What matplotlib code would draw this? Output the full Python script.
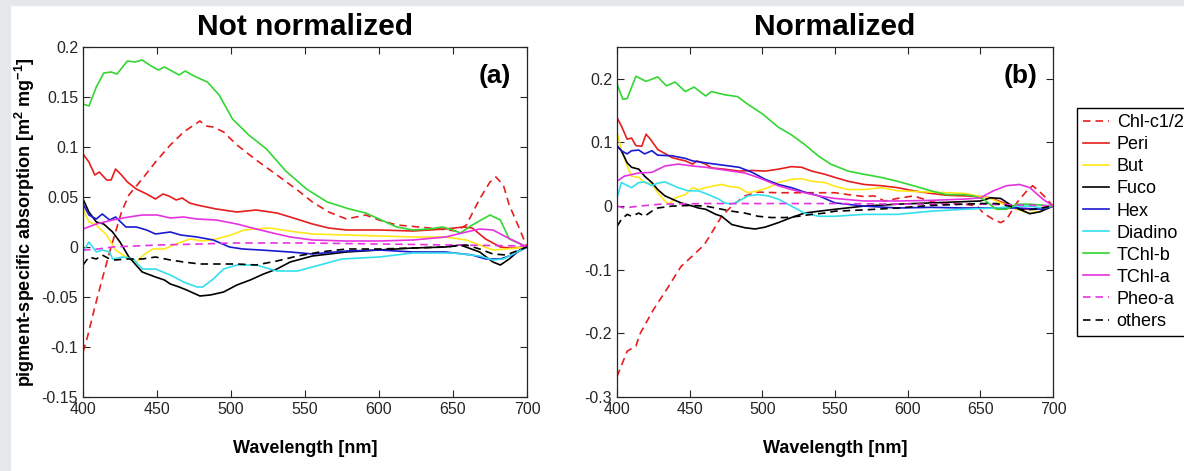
import matplotlib
matplotlib.use("Agg")
import matplotlib.pyplot as plt
from matplotlib.patches import Rectangle

plt.rcParams['font.family'] = ['Liberation Sans', 'DejaVu Sans']
plt.rcParams['mathtext.fontset'] = 'custom'
plt.rcParams['mathtext.rm'] = 'Liberation Sans'
plt.rcParams['mathtext.bf'] = 'Liberation Sans:bold'

# pigment names (legend order)
pigments = ["Chl-c1/2", "Peri", "But", "Fuco", "Hex", "Diadino", "TChl-b", "TChl-a", "Pheo-a", "others"]

# ---- panel (a): not normalized, (wavelength nm, value) ----
a_chlc = [(400,-0.105),(403,-0.09),(408,-0.06),(413,-0.032),(418,-0.005),(422,0.015),(426,0.035),(431,0.052),
          (440,0.068),(449,0.085),(459,0.102),(468,0.115),(475,0.122),(479,0.126),(483,0.121),(488,0.12),
          (495,0.115),(504,0.102),(517,0.087),(531,0.072),(544,0.058),(555,0.045),(566,0.035),(578,0.028),
          (591,0.032),(600,0.027),(612,0.022),(627,0.02),(641,0.018),(652,0.016),(659,0.022),(668,0.048),
          (675,0.065),(679,0.07),(684,0.062),(688,0.042),(695,0.018),(700,0.0)]
a_peri = [(400,0.093),(404,0.085),(408,0.072),(411,0.075),(416,0.067),(419,0.067),(422,0.078),(426,0.072),
          (430,0.065),(436,0.058),(443,0.053),(449,0.048),(454,0.053),(458,0.051),(463,0.047),(467,0.049),
          (472,0.044),(477,0.042),(490,0.038),(504,0.035),(517,0.037),(531,0.034),(540,0.03),(555,0.023),
          (566,0.019),(578,0.017),(600,0.017),(623,0.016),(645,0.018),(657,0.02),(663,0.019),(672,0.008),
          (682,0.0),(688,-0.001),(700,0.0)]
a_but = [(400,0.038),(404,0.025),(409,0.022),(416,0.012),(422,-0.003),(427,-0.008),(436,-0.015),(441,-0.008),
         (447,-0.002),(455,-0.002),(463,0.003),(472,0.008),(481,0.006),(490,0.008),(500,0.012),(509,0.017),
         (517,0.018),(526,0.019),(535,0.017),(544,0.015),(555,0.013),(578,0.012),(600,0.011),(623,0.01),
         (645,0.01),(659,0.007),(668,0.002),(677,-0.003),(686,-0.002),(700,0.0)]
a_fuco = [(400,0.048),(404,0.035),(409,0.025),(414,0.023),(420,0.015),(425,0.005),(431,-0.01),(440,-0.025),
          (449,-0.03),(455,-0.033),(459,-0.037),(465,-0.04),(470,-0.043),(479,-0.049),(486,-0.048),(495,-0.045),
          (504,-0.038),(513,-0.033),(522,-0.027),(531,-0.022),(540,-0.015),(555,-0.009),(578,-0.005),
          (600,-0.003),(623,-0.001),(645,0.0),(655,0.002),(668,-0.005),(677,-0.015),(682,-0.018),(688,-0.012),
          (695,-0.003),(700,0.0)]
a_hex = [(400,0.043),(404,0.032),(409,0.028),(413,0.033),(418,0.027),(422,0.03),(429,0.02),(436,0.02),
         (443,0.017),(449,0.013),(459,0.015),(466,0.012),(477,0.01),(488,0.007),(499,0.0),(508,-0.002),
         (520,-0.003),(540,-0.005),(555,-0.007),(578,-0.004),(600,-0.003),(623,-0.005),(645,-0.005),
         (663,-0.008),(672,-0.012),(682,-0.012),(690,-0.008),(700,0.0)]
a_diad = [(400,-0.005),(404,0.005),(409,-0.005),(413,-0.003),(418,-0.005),(420,-0.012),(427,-0.01),(434,-0.012),
          (440,-0.022),(449,-0.022),(459,-0.028),(468,-0.035),(477,-0.04),(481,-0.04),(488,-0.032),(495,-0.022),
          (504,-0.018),(517,-0.018),(531,-0.024),(545,-0.024),(560,-0.018),(575,-0.012),(600,-0.01),
          (623,-0.006),(650,-0.006),(668,-0.009),(677,-0.013),(684,-0.012),(692,-0.006),(700,0.0)]
a_tchlb = [(400,0.143),(404,0.141),(409,0.16),(414,0.174),(419,0.175),(423,0.173),(430,0.186),(435,0.185),
           (440,0.187),(446,0.181),(451,0.177),(455,0.18),(460,0.176),(465,0.172),(469,0.176),(475,0.171),
           (484,0.165),(492,0.152),(501,0.128),(512,0.112),(524,0.098),(537,0.076),(551,0.058),(565,0.045),
           (580,0.038),(591,0.034),(600,0.028),(612,0.02),(623,0.017),(634,0.018),(643,0.02),
           (650,0.017),(655,0.014),(663,0.022),(675,0.032),(682,0.027),(688,0.008),(700,0.0)]
a_tchla = [(400,0.018),(409,0.023),(420,0.027),(431,0.03),(440,0.032),(450,0.032),(459,0.029),(468,0.03),
           (477,0.028),(490,0.027),(504,0.023),(517,0.018),(531,0.013),(540,0.01),(555,0.007),(578,0.006),
           (600,0.006),(623,0.007),(645,0.01),(659,0.015),(668,0.018),(677,0.017),(686,0.01),(700,0.0)]
a_pheo = [(400,-0.003),(410,-0.002),(420,0.0),(450,0.002),(480,0.003),(500,0.004),(550,0.004),(600,0.003),
          (650,0.002),(700,0.001)]
a_others = [(400,-0.018),(404,-0.01),(409,-0.012),(413,-0.008),(418,-0.012),(422,-0.013),(429,-0.012),
            (440,-0.012),(449,-0.01),(459,-0.013),(468,-0.015),(479,-0.017),(490,-0.017),(504,-0.017),
            (517,-0.018),(531,-0.014),(545,-0.009),(560,-0.005),(578,-0.002),(600,-0.002),(623,-0.001),
            (645,0.0),(659,0.002),(668,-0.002),(677,-0.007),(686,-0.008),(700,0.0)]

# ---- panel (b): normalized ----
b_chlc = [(400,-0.268),(407,-0.228),(413,-0.22),(416,-0.2),(425,-0.163),(435,-0.128),(444,-0.095),(453,-0.076),
          (460,-0.061),(467,-0.035),(472,-0.016),(479,0.0),(488,0.016),(497,0.022),(510,0.021),(530,0.021),
          (550,0.021),(559,0.018),(570,0.015),(577,0.016),(584,0.008),(593,0.012),(604,0.016),(611,0.011),
          (620,0.005),(639,0.003),(648,0.0),(652,-0.011),(659,-0.021),(664,-0.026),(668,-0.021),(675,0.005),
          (682,0.024),(686,0.032),(693,0.018),(700,0.0)]
b_peri = [(400,0.139),(403,0.126),(407,0.105),(410,0.107),(413,0.095),(417,0.094),(420,0.113),(423,0.105),
          (428,0.089),(438,0.076),(447,0.071),(452,0.066),(455,0.071),(461,0.066),(465,0.06),(474,0.058),
          (484,0.055),(493,0.056),(502,0.055),(511,0.058),(520,0.062),(527,0.061),(534,0.055),(543,0.05),
          (550,0.045),(559,0.039),(570,0.034),(582,0.032),(593,0.029),(604,0.024),(616,0.02),(627,0.017),
          (639,0.016),(650,0.015),(657,0.013),(666,0.005),(675,-0.005),(684,-0.005),(693,-0.003),(700,0.0)]
b_but = [(400,0.116),(403,0.089),(407,0.063),(410,0.047),(415,0.045),(419,0.037),(424,0.035),(428,0.021),
         (433,0.008),(436,0.003),(440,0.013),(447,0.018),(452,0.029),(456,0.026),(461,0.029),(467,0.032),
         (472,0.034),(477,0.031),(484,0.029),(490,0.021),(497,0.024),(504,0.029),(511,0.037),(520,0.042),
         (527,0.043),(534,0.039),(543,0.037),(550,0.031),(559,0.026),(570,0.026),(582,0.029),(593,0.024),
         (604,0.023),(616,0.022),(627,0.021),(639,0.02),(648,0.016),(657,0.012),(666,0.003),(675,-0.005),
         (684,-0.011),(691,-0.008),(700,0.0)]
b_fuco = [(400,0.095),(403,0.087),(407,0.068),(410,0.061),(415,0.058),(419,0.047),(424,0.037),(428,0.026),
          (433,0.016),(438,0.011),(444,0.005),(452,0.0),(456,-0.003),(461,-0.005),(468,-0.013),(472,-0.016),
          (479,-0.029),(488,-0.034),(495,-0.036),(502,-0.033),(511,-0.026),(520,-0.018),(529,-0.011),
          (539,-0.008),(550,-0.005),(570,0.0),(593,0.003),(616,0.005),(639,0.007),(650,0.008),(657,0.013),
          (664,0.012),(670,0.003),(677,-0.005),(684,-0.012),(691,-0.009),(700,0.0)]
b_hex = [(400,0.095),(403,0.087),(407,0.082),(410,0.087),(415,0.088),(419,0.082),(424,0.087),(428,0.08),
         (438,0.079),(447,0.075),(452,0.071),(461,0.068),(474,0.064),(484,0.061),(493,0.053),(502,0.042),
         (511,0.034),(520,0.029),(529,0.022),(539,0.016),(550,0.005),(570,0.0),(593,-0.003),(616,-0.002),
         (639,-0.003),(661,-0.003),(675,-0.003),(693,-0.005),(700,0.0)]
b_diad = [(400,0.013),(403,0.037),(410,0.029),(415,0.037),(419,0.038),(424,0.032),(428,0.036),(433,0.038),
          (442,0.029),(449,0.024),(456,0.024),(463,0.018),(470,0.011),(474,0.005),(479,0.003),(484,0.008),
          (490,0.016),(497,0.018),(504,0.016),(511,0.011),(520,0.0),(529,-0.011),(539,-0.016),(550,-0.016),
          (570,-0.013),(593,-0.013),(616,-0.008),(639,-0.005),(661,-0.003),(675,0.0),(684,0.0),(693,-0.003),
          (700,0.0)]
b_tchlb = [(400,0.192),(404,0.168),(407,0.169),(413,0.204),(420,0.196),(428,0.203),(434,0.189),(440,0.195),
           (447,0.18),(453,0.187),(461,0.173),(465,0.18),(474,0.175),(483,0.172),(490,0.16),(500,0.145),
           (511,0.124),(520,0.112),(529,0.097),(539,0.078),(547,0.066),(559,0.055),(570,0.05),(582,0.045),
           (593,0.039),(604,0.032),(616,0.024),(627,0.018),(639,0.018),(645,0.016),(652,0.011),(661,-0.005),
           (668,-0.005),(675,0.003),(684,0.003),(700,0.0)]
b_tchla = [(400,0.039),(405,0.047),(415,0.052),(424,0.053),(433,0.063),(442,0.066),(452,0.063),(461,0.061),
           (470,0.058),(479,0.055),(488,0.052),(497,0.045),(511,0.032),(520,0.026),(529,0.021),(539,0.016),
           (550,0.012),(570,0.008),(593,0.008),(616,0.009),(639,0.011),(650,0.013),(659,0.024),(668,0.032),
           (677,0.034),(684,0.029),(693,0.011),(700,0.0)]
b_pheo = [(400,0.0),(405,-0.003),(415,0.0),(430,0.003),(460,0.004),(500,0.004),(550,0.004),(600,0.003),
          (650,0.003),(690,0.001),(700,0.0)]
b_others = [(400,-0.032),(403,-0.021),(407,-0.013),(410,-0.016),(415,-0.011),(419,-0.016),(424,-0.008),
            (428,-0.003),(438,0.0),(450,0.001),(461,0.0),(470,-0.004),(479,-0.008),(488,-0.011),(497,-0.016),
            (506,-0.018),(516,-0.018),(525,-0.016),(534,-0.013),(543,-0.011),(550,-0.008),(570,-0.006),
            (593,-0.003),(616,0.001),(639,0.003),(650,0.004),(661,0.004),(670,0.0),(679,-0.006),(688,-0.005),
            (697,-0.001),(700,0.0)]

panel_a = [a_chlc, a_peri, a_but, a_fuco, a_hex, a_diad, a_tchlb, a_tchla, a_pheo, a_others]
panel_b = [b_chlc, b_peri, b_but, b_fuco, b_hex, b_diad, b_tchlb, b_tchla, b_pheo, b_others]

colors = ['#e61e1e', '#e61e1e', '#ffe81a', 'black', '#1a1ad0', '#33e0ee', '#33d633', '#e633e0', '#e633e0', 'black']
styles = ['--', '-', '-', '-', '-', '-', '-', '-', '--', '--']

W, H = 1184, 471
fig = plt.figure(figsize=(W / 100, H / 100), dpi=100)
fig.patch.set_facecolor('white')
# grey strips at the edge of the screenshot
fig.patches.append(Rectangle((0, 0), 10 / W, 1, transform=fig.transFigure, color='#e6e7e9', zorder=0))
fig.patches.append(Rectangle((0, 1 - 5 / H), 1, 5 / H, transform=fig.transFigure, color='#e6e7e9', zorder=0))

ax1 = fig.add_axes([83 / W, 1 - 397 / H, 444 / W, 350 / H])
ax2 = fig.add_axes([617 / W, 1 - 397 / H, 436 / W, 350 / H])

for ax, series, title, tag, ylim, yticks in [
        (ax1, panel_a, 'Not normalized', '(a)', (-0.15, 0.2), [-0.15, -0.1, -0.05, 0, 0.05, 0.1, 0.15, 0.2]),
        (ax2, panel_b, 'Normalized', '(b)', (-0.3, 0.25), [-0.3, -0.2, -0.1, 0, 0.1, 0.2])]:
    lines = []
    for s, c, ls in zip(series, colors, styles):
        wl = [p[0] for p in s]
        val = [p[1] for p in s]
        ln, = ax.plot(wl, val, color=c, ls=ls, lw=1.2, dashes=(4.5, 3) if ls == '--' else (None, None))
        lines.append(ln)
    ax.set_xlim(400, 700)
    ax.set_ylim(*ylim)
    ax.set_xticks([400, 450, 500, 550, 600, 650, 700])
    ax.set_yticks(yticks)
    ax.set_yticklabels(['%g' % t for t in yticks])
    ax.tick_params(direction='in', top=True, right=True, length=5, width=0.8,
                   labelsize=11.5, colors='#262626', labelcolor='#262626')
    for sp in ax.spines.values():
        sp.set_color('#262626')
        sp.set_linewidth(0.9)
    ax.set_title(title, fontsize=21.5, fontweight='bold', pad=8.5)
    ax.set_xlabel('Wavelength [nm]', fontsize=13, fontweight='bold')
    ax.xaxis.set_label_coords(0.5, -0.122)
    ax.text(0.965, 0.916, tag, transform=ax.transAxes, ha='right', va='center',
            fontsize=19, fontweight='bold')

ax1.set_ylabel(r'pigment-specific absorption [m$^\mathbf{2}$ mg$^\mathbf{-1}$]', fontsize=13, fontweight='bold')
ax1.yaxis.set_label_coords(-0.104, 0.5)

fig.legend(lines, pigments, loc='upper left', bbox_to_anchor=(1077 / W, 1 - 108 / H),
           fontsize=13, frameon=True, fancybox=False, edgecolor='black', framealpha=1,
           borderaxespad=0, borderpad=0.35, handlelength=1.4, handletextpad=0.45, labelspacing=0.28)

fig.savefig('out.png', dpi=100)
